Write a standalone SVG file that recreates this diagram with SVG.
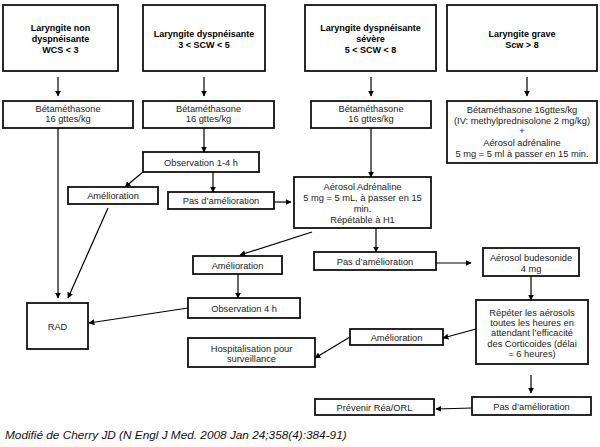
<svg xmlns="http://www.w3.org/2000/svg" width="600" height="447" viewBox="0 0 600 447">
  <defs>
    <marker id="arrow" viewBox="0 0 10 10" refX="9" refY="5" markerWidth="6" markerHeight="6" markerUnits="userSpaceOnUse" orient="auto">
      <path d="M0,0 L10,5 L0,10 z" fill="#000"/>
    </marker>
    <style>
      .box { fill: #fff; stroke: #111; stroke-width: 1.8; }
      .t { font-family: "Liberation Sans", Arial, sans-serif; font-size: 9.3px; fill: #222; text-anchor: middle; }
      .b { font-family: "Liberation Sans", Arial, sans-serif; font-size: 9px; font-weight: bold; fill: #000; text-anchor: middle; }
      .c { stroke: #000; stroke-width: 1.2; fill: none; marker-end: url(#arrow); }
      .caption { font-family: "Liberation Sans", Arial, sans-serif; font-size: 11.8px; font-style: italic; fill: #111; }
    </style>
  </defs>
  <rect width="600" height="447" fill="#fff"/>

  <!-- severity headers -->
  <g id="laryngite-non-dyspneisante">
    <rect class="box" x="3" y="5" width="115" height="66"/>
    <text class="b" x="60.5" y="30.5">Laryngite non</text>
    <text class="b" x="60.5" y="41.5">dyspnéisante</text>
    <text class="b" x="60.5" y="52.5">WCS &lt; 3</text>
  </g>
  <g id="laryngite-dyspneisante">
    <rect class="box" x="143" y="5" width="122" height="66"/>
    <text class="b" x="204" y="36.5">Laryngite dyspnéisante</text>
    <text class="b" x="204" y="47.5">3 &lt; SCW &lt; 5</text>
  </g>
  <g id="laryngite-severe">
    <rect class="box" x="305" y="5" width="131" height="66"/>
    <text class="b" x="370.5" y="30.5">Laryngite dyspnéisante</text>
    <text class="b" x="370.5" y="41.5">sévère</text>
    <text class="b" x="370.5" y="52.5">5 &lt; SCW &lt; 8</text>
  </g>
  <g id="laryngite-grave">
    <rect class="box" x="447" y="5" width="150" height="66"/>
    <text class="b" x="522" y="36.5">Laryngite grave</text>
    <text class="b" x="522" y="47.5">Scw &gt; 8</text>
  </g>

  <!-- first-line treatment -->
  <g id="betamethasone-1">
    <rect class="box" x="3" y="101" width="130" height="27"/>
    <text class="t" x="68" y="111.5">Bétaméthasone</text>
    <text class="t" x="68" y="121.5">16 gttes/kg</text>
  </g>
  <g id="betamethasone-2">
    <rect class="box" x="143" y="101" width="131" height="27"/>
    <text class="t" x="208.5" y="111.5">Bétaméthasone</text>
    <text class="t" x="208.5" y="121.5">16 gttes/kg</text>
  </g>
  <g id="betamethasone-3">
    <rect class="box" x="311" y="101" width="120" height="27"/>
    <text class="t" x="371" y="111.5">Bétaméthasone</text>
    <text class="t" x="371" y="121.5">16 gttes/kg</text>
  </g>
  <g id="betamethasone-4">
    <rect class="box" x="447" y="101" width="150" height="62"/>
    <text class="t" x="522" y="113">Bétaméthasone 16gttes/kg</text>
    <text class="t" x="522" y="124">(IV: methylprednisolone  2 mg/kg)</text>
    <text class="t" x="522" y="134">+</text>
    <text class="t" x="522" y="145.5">Aérosol adrénaline</text>
    <text class="t" x="522" y="157">5 mg = 5 ml à passer en 15 min.</text>
  </g>

  <!-- follow-up -->
  <g id="observation-1-4h">
    <rect class="box" x="143" y="152" width="116" height="20"/>
    <text class="t" x="201" y="165.5">Observation 1-4 h</text>
  </g>
  <g id="amelioration-1">
    <rect class="box" x="68" y="187" width="90" height="17"/>
    <text class="t" x="113" y="199">Amélioration</text>
  </g>
  <g id="pas-amelioration-1">
    <rect class="box" x="168" y="192" width="106" height="17"/>
    <text class="t" x="221" y="204">Pas d’amélioration</text>
  </g>
  <g id="aerosol-adrenaline">
    <rect class="box" x="294" y="177" width="137" height="51"/>
    <text class="t" x="362.5" y="189.5">Aérosol Adrénaline</text>
    <text class="t" x="362.5" y="200.5">5 mg = 5 mL, à passer en 15</text>
    <text class="t" x="362.5" y="211.5">min.</text>
    <text class="t" x="362.5" y="222.5">Répétable à H1</text>
  </g>
  <g id="amelioration-2">
    <rect class="box" x="193" y="256" width="89" height="18"/>
    <text class="t" x="237.5" y="268.5">Amélioration</text>
  </g>
  <g id="pas-amelioration-2">
    <rect class="box" x="314" y="252" width="122" height="18"/>
    <text class="t" x="375" y="264.5">Pas d’amélioration</text>
  </g>
  <g id="aerosol-budesonide">
    <rect class="box" x="483" y="248" width="96" height="28"/>
    <text class="t" x="531" y="261">Aérosol budesonide</text>
    <text class="t" x="531" y="271.5">4 mg</text>
  </g>
  <g id="observation-4h">
    <rect class="box" x="188" y="298" width="112" height="20"/>
    <text class="t" x="244" y="311.5">Observation 4 h</text>
  </g>
  <g id="rad">
    <rect class="box" x="27" y="303" width="61" height="46"/>
    <text class="t" x="57.5" y="329.5">RAD</text>
  </g>
  <g id="repeter-aerosols">
    <rect class="box" x="476" y="300" width="112" height="64"/>
    <text class="t" x="532" y="315.5">Répéter les aérosols</text>
    <text class="t" x="532" y="326">toutes les heures en</text>
    <text class="t" x="532" y="336">attendant l’efficacité</text>
    <text class="t" x="532" y="346.5">des  Corticoides (délai</text>
    <text class="t" x="532" y="357">= 6 heures)</text>
  </g>
  <g id="amelioration-3">
    <rect class="box" x="350" y="329" width="93" height="16"/>
    <text class="t" x="396.5" y="340.5">Amélioration</text>
  </g>
  <g id="hospitalisation">
    <rect class="box" x="188" y="338" width="127" height="29"/>
    <text class="t" x="251.5" y="351.5">Hospitalisation pour</text>
    <text class="t" x="251.5" y="361.5">surveillance</text>
  </g>
  <g id="pas-amelioration-3">
    <rect class="box" x="472" y="397" width="119" height="18"/>
    <text class="t" x="531.5" y="409.5">Pas d’amélioration</text>
  </g>
  <g id="prevenir-rea">
    <rect class="box" x="315" y="399" width="119" height="16"/>
    <text class="t" x="374.5" y="410.5">Prévenir Réa/ORL</text>
  </g>

  <!-- connectors -->
  <g id="connectors">
    <line class="c" x1="58" y1="77" x2="58" y2="96"/>
    <line class="c" x1="204" y1="77" x2="204" y2="96"/>
    <line class="c" x1="371" y1="77" x2="371" y2="96"/>
    <line class="c" x1="527" y1="77" x2="527" y2="96"/>
    <line class="c" x1="58" y1="128" x2="58" y2="298"/>
    <line class="c" x1="204" y1="128" x2="204" y2="152"/>
    <line class="c" x1="143" y1="172" x2="125" y2="187"/>
    <line class="c" x1="213" y1="172" x2="213" y2="192"/>
    <line class="c" x1="274" y1="202" x2="291" y2="202"/>
    <line class="c" x1="108" y1="208" x2="68" y2="298"/>
    <line class="c" x1="371" y1="128" x2="371" y2="177"/>
    <line class="c" x1="312" y1="232" x2="240" y2="255"/>
    <line class="c" x1="376" y1="228" x2="376" y2="252"/>
    <line class="c" x1="436" y1="263" x2="471" y2="263"/>
    <line class="c" x1="238" y1="274" x2="238" y2="298"/>
    <line class="c" x1="188" y1="308" x2="89" y2="323"/>
    <line class="c" x1="531" y1="276" x2="531" y2="300"/>
    <line class="c" x1="476" y1="329" x2="443" y2="338"/>
    <line class="c" x1="350" y1="337" x2="315" y2="358"/>
    <line class="c" x1="531" y1="375" x2="531" y2="393"/>
    <line class="c" x1="472" y1="408" x2="436" y2="409"/>
  </g>

  <text class="caption" x="5" y="439">Modifié de Cherry JD (N Engl J Med. 2008 Jan 24;358(4):384-91)</text>
</svg>
